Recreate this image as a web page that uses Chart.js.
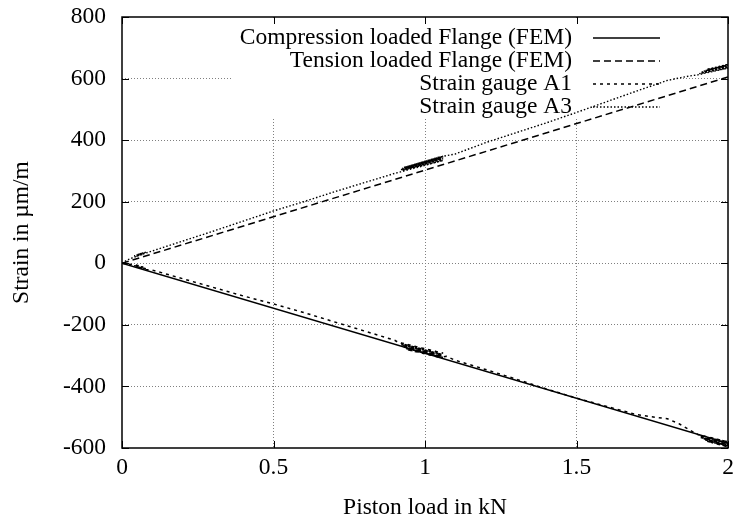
<!DOCTYPE html>
<html lang="en">
<head>
   <meta charset="UTF-8" />
   <title>Strain vs piston load</title>
   <style>
      body { margin: 0; padding: 0; background-color: #ffffff; }
      #wrap { width: 735px; height: 523px; }
   </style>
   <script src="https://cdn.jsdelivr.net/npm/chart.js@4.4.1/dist/chart.umd.min.js"></script>
</head>
<body>
   <div id="wrap"><canvas id="strainChart"></canvas></div>

   <script>
      // FEM results (straight lines)
      const femLoad = [0, 2];
      const compressionFem = [0, -585];
      const tensionFem = [0, 605];

      // Strain gauge A1 (compression side); load was held near 0.05, 1 and 2 kN,
      // so the readings pile up there
      const a1Load = [0, 0.02, 0.04, 0.07, 0.04, 0.07, 0.05, 0.08, 0.045, 0.075, 0.1, 0.2, 0.3, 0.4, 0.5, 0.6, 0.7, 0.8, 0.9,
         0.91, 1.06, 0.92, 1.055, 0.92, 1.06, 0.925, 1.055, 0.93, 1.06, 0.935, 1.05, 0.94, 1.06, 1.07,
         1.1, 1.2, 1.3, 1.4, 1.5, 1.6, 1.7, 1.76, 1.8, 1.84, 1.88,
         1.90, 2.0, 1.905, 2.0, 1.91, 1.995, 1.92, 2.0, 1.925, 2.0, 1.93, 2.0, 1.96, 2.0];
      const a1Strain = [0, -3, -4, -12, -8, -16, -12, -18, -10, -20, -22, -50, -78, -106, -132, -160, -190, -220, -250,
         -256, -292, -260, -296, -264, -300, -268, -302, -272, -306, -276, -306, -280, -304, -302,
         -315, -345, -376, -408, -438, -465, -492, -500, -505, -522, -545,
         -556, -580, -560, -584, -566, -588, -570, -590, -574, -592, -578, -596, -585, -588];

      // Strain gauge A3 (tension side)
      const a3Load = [0, 0.02, 0.04, 0.07, 0.04, 0.07, 0.05, 0.08, 0.045, 0.075, 0.1, 0.2, 0.3, 0.4, 0.5, 0.6, 0.7, 0.8, 0.9,
         0.92, 1.06, 0.925, 1.055, 0.93, 1.06, 0.92, 1.05, 0.935, 1.06, 0.925, 1.055, 0.94, 1.06, 0.93, 1.05,
         1.1, 1.2, 1.3, 1.4, 1.5, 1.6, 1.7, 1.8, 1.83, 1.87,
         1.90, 2.0, 1.905, 2.0, 1.91, 1.995, 1.92, 2.0, 1.925, 2.0, 1.93, 2.0];
      const a3Strain = [0, 12, 20, 30, 24, 34, 28, 36, 22, 32, 40, 72, 104, 137, 170, 200, 232, 262, 292,
         297, 334, 302, 337, 305, 340, 304, 340, 309, 344, 308, 345, 313, 348, 311, 346,
         355, 392, 424, 456, 490, 525, 560, 594, 600, 608,
         612, 634, 616, 638, 620, 642, 624, 644, 626, 646, 630, 640];

      const xTicks = [0, 0.5, 1, 1.5, 2];
      const yTicks = [-600, -400, -200, 0, 200, 400, 600, 800];

      const seriesNames = ['Compression loaded Flange (FEM)', 'Tension loaded Flange (FEM)', 'Strain gauge A1', 'Strain gauge A3'];
      const seriesDash = [[], [7, 4], [3, 4], [1.5, 2]];
      const seriesWidth = [1.5, 1.5, 1.5, 1.4];

      const fontFamily = '"Liberation Serif", "Times New Roman", serif';
      const fontSize = 23.5;

      function toPoints(xs, ys) {
         return xs.map((x, i) => ({ x: x, y: ys[i] }));
      }

      // gnuplot style key: white box, right aligned text, sample line on the right
      const keyPlugin = {
         id: 'gnuplotKey',
         beforeDatasetsDraw(chart) {
            const ctx = chart.ctx;
            ctx.save();
            ctx.fillStyle = '#ffffff';
            ctx.fillRect(232, 19, 441, 100);
            ctx.font = fontSize + 'px ' + fontFamily;
            ctx.fillStyle = '#000000';
            ctx.textAlign = 'right';
            ctx.textBaseline = 'middle';
            seriesNames.forEach((name, i) => {
               const y = 38 + i * 23;
               ctx.fillText(name, 572, y);
               ctx.beginPath();
               ctx.setLineDash(seriesDash[i]);
               ctx.lineWidth = seriesWidth[i];
               ctx.strokeStyle = '#000000';
               ctx.moveTo(593, y);
               ctx.lineTo(660, y);
               ctx.stroke();
            });
            ctx.restore();
         },
         afterDatasetsDraw(chart) {
            const ctx = chart.ctx;
            const a = chart.chartArea;
            const xs = chart.scales.x;
            const ys = chart.scales.y;
            ctx.save();
            ctx.setLineDash([]);
            ctx.strokeStyle = '#000000';
            ctx.lineWidth = 1.5;
            ctx.strokeRect(a.left, a.top, a.right - a.left, a.bottom - a.top);
            ctx.lineWidth = 1;
            ctx.beginPath();
            xTicks.forEach(v => {
               const px = Math.round(xs.getPixelForValue(v)) + 0.5;
               ctx.moveTo(px, a.bottom); ctx.lineTo(px, a.bottom - 7);
               ctx.moveTo(px, a.top); ctx.lineTo(px, a.top + 7);
            });
            yTicks.forEach(v => {
               const py = Math.round(ys.getPixelForValue(v)) + 0.5;
               ctx.moveTo(a.left, py); ctx.lineTo(a.left + 7, py);
               ctx.moveTo(a.right, py); ctx.lineTo(a.right - 7, py);
            });
            ctx.stroke();
            ctx.restore();
         }
      };

      const gridColor = (ctx, ticks) => {
         const v = ctx.tick ? ctx.tick.value : null;
         if (v === ticks[0] || v === ticks[ticks.length - 1]) return 'rgba(0,0,0,0)';
         return '#808080';
      };

      const seriesData = [
         toPoints(femLoad, compressionFem),
         toPoints(femLoad, tensionFem),
         toPoints(a1Load, a1Strain),
         toPoints(a3Load, a3Strain)
      ];

      new Chart(document.getElementById('strainChart').getContext('2d'), {
         type: 'scatter',
         data: {
            datasets: seriesNames.map((name, i) => ({
               label: name,
               data: seriesData[i],
               showLine: true,
               pointRadius: 0,
               borderColor: '#000000',
               borderWidth: seriesWidth[i],
               borderDash: seriesDash[i],
               fill: false,
               tension: 0
            }))
         },
         plugins: [keyPlugin],
         options: {
            responsive: true,
            maintainAspectRatio: false,
            animation: false,
            layout: { padding: { top: 17, right: 7, left: 0, bottom: 0 } },
            plugins: {
               legend: { display: false },
               tooltip: { enabled: false }
            },
            scales: {
               x: {
                  type: 'linear',
                  min: 0,
                  max: 2,
                  afterFit: scale => {
                     scale.height = 75;
                     scale.paddingLeft = 0;
                     scale.paddingRight = 0;
                  },
                  afterBuildTicks: scale => { scale.ticks = xTicks.map(v => ({ value: v })); },
                  grid: { color: ctx => gridColor(ctx, xTicks), lineWidth: 1, drawTicks: false },
                  border: { display: false, dash: [1, 2] },
                  ticks: {
                     color: '#000000',
                     padding: 6,
                     maxRotation: 0,
                     font: { family: fontFamily, size: fontSize },
                     callback: v => String(v)
                  },
                  title: {
                     display: true,
                     text: 'Piston load in kN',
                     color: '#000000',
                     padding: { top: 0, bottom: 1 },
                     font: { family: fontFamily, size: fontSize }
                  }
               },
               y: {
                  type: 'linear',
                  min: -600,
                  max: 800,
                  afterFit: scale => {
                     scale.width = 122;
                     scale.paddingTop = 0;
                     scale.paddingBottom = 0;
                  },
                  afterBuildTicks: scale => { scale.ticks = yTicks.map(v => ({ value: v })); },
                  grid: { color: ctx => gridColor(ctx, yTicks), lineWidth: 1, drawTicks: false },
                  border: { display: false, dash: [1, 2] },
                  ticks: {
                     color: '#000000',
                     padding: 16,
                     font: { family: fontFamily, size: fontSize },
                     callback: v => String(v)
                  },
                  title: {
                     display: true,
                     text: 'Strain in µm/m',
                     color: '#000000',
                     padding: { top: 8, bottom: 0 },
                     font: { family: fontFamily, size: fontSize }
                  }
               }
            }
         }
      });
   </script>
</body>
</html>
